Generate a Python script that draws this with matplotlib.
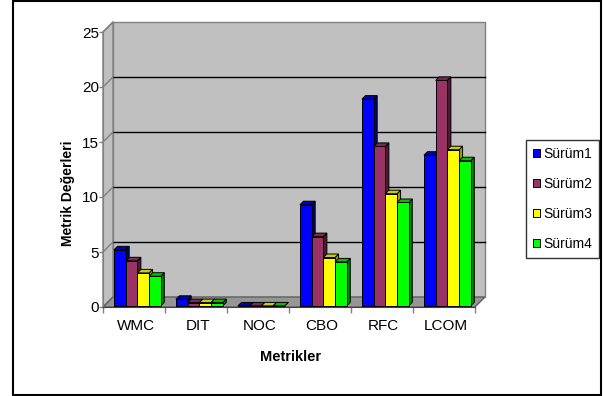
import matplotlib.pyplot as plt
from matplotlib.patches import Polygon, Rectangle, Patch

# metric names and values for each release
metrics = ["WMC", "DIT", "NOC", "CBO", "RFC", "LCOM"]
series_names = ["Sürüm1", "Sürüm2", "Sürüm3", "Sürüm4"]
surum1 = [5.1, 0.6, 0.0, 9.2, 18.8, 13.7]
surum2 = [4.1, 0.3, 0.0, 6.3, 14.5, 20.5]
surum3 = [3.0, 0.3, 0.0, 4.4, 10.2, 14.2]
surum4 = [2.7, 0.3, 0.0, 4.0, 9.4, 13.2]
y_ticks = [0, 5, 10, 15, 20, 25]

series = [surum1, surum2, surum3, surum4]
face = ["#0000FF", "#993366", "#FFFF00", "#00FF00"]
top_c = ["#0000B0", "#7A2950", "#CCCC00", "#00C000"]
side_c = ["#000080", "#4D1A33", "#999900", "#008000"]

plt.rcParams["font.family"] = ["Liberation Sans", "DejaVu Sans"]

W, H = 603, 396
fig = plt.figure(figsize=(W / 100, H / 100), dpi=100)

# pixel layout of the front plane: x=0 at 103px, 62px per category; y=0 at 307px, 11px per unit
px0, ux, py0, uy = 103, 62, 307, 11
xlo, xhi, ylo, yhi = -0.35, 6.35, -1.2, 26.5
ax = fig.add_axes([(px0 + xlo * ux) / W, (H - (py0 - ylo * uy)) / H,
                   (xhi - xlo) * ux / W, (yhi - ylo) * uy / H])
ax.set_xlim(xlo, xhi)
ax.set_ylim(ylo, yhi)
ax.patch.set_visible(False)

n = len(metrics)
ymax = y_ticks[-1]
DX, DY = 10 / ux, 10 / uy          # wall depth
bdx, bdy = 3.5 / ux, 3.5 / uy      # bar depth
bw = 11.7 / ux
off = 0.177
base = 0.1

# walls and floor
ax.add_patch(Polygon([(DX, DY), (n + DX, DY), (n + DX, ymax + DY), (DX, ymax + DY)],
                     closed=True, fc="#C0C0C0", ec="#808080", lw=1, zorder=1))
ax.add_patch(Polygon([(0, 0), (DX, DY), (DX, ymax + DY), (0, ymax)],
                     closed=True, fc="#C0C0C0", ec="#808080", lw=1, zorder=1))
ax.add_patch(Polygon([(0, 0), (n, 0), (n + DX, DY), (DX, DY)],
                     closed=True, fc="#969696", ec="#606060", lw=1, zorder=2))

# gridlines on the back wall and the side wall
for v in y_ticks[1:-1]:
    ax.plot([DX, n + DX], [v + DY, v + DY], color="black", lw=1, zorder=2)
for v in y_ticks[1:]:
    ax.plot([0, DX], [v, v + DY], color="#808080", lw=1, zorder=2)

# 3d-looking columns
for i in range(n):
    for j, vals in enumerate(series):
        h = vals[i]
        x = i + off + j * bw
        z = 10 + j
        ax.add_patch(Polygon([(x + bw, base), (x + bw, base + h), (x + bw + bdx, base + h + bdy),
                              (x + bw + bdx, base + bdy)], closed=True, fc=side_c[j],
                             ec="black", lw=0.7, zorder=z))
        ax.add_patch(Polygon([(x, base + h), (x + bdx, base + h + bdy), (x + bw + bdx, base + h + bdy),
                              (x + bw, base + h)], closed=True, fc=top_c[j],
                             ec="black", lw=0.7, zorder=z))
        ax.bar(x, h, bw, bottom=base, align="edge", color=face[j],
               edgecolor="black", lw=0.7, zorder=z)

# axes
for s in ["top", "right"]:
    ax.spines[s].set_visible(False)
ax.spines["left"].set_position(("data", 0))
ax.spines["left"].set_bounds(0, ymax)
ax.spines["left"].set_color("#808080")
ax.spines["bottom"].set_position(("data", 0))
ax.spines["bottom"].set_bounds(0, n)
ax.spines["bottom"].set_color("#404040")
ax.spines["left"].set_zorder(3)
ax.spines["bottom"].set_zorder(3)

ax.set_yticks(y_ticks)
ax.set_yticklabels([str(t) for t in y_ticks])
ax.tick_params(axis="y", length=3, width=1, color="#808080", pad=0, labelsize=11)
ax.set_xticks([i + 0.53 for i in range(n)])
ax.set_xticklabels(metrics)
ax.set_xticks(range(n + 1), minor=True)
ax.tick_params(axis="x", which="major", length=0, pad=9, labelsize=11)
ax.tick_params(axis="x", which="minor", length=4, width=1, color="#808080")

fig.text(291 / W, 1 - 357 / H, "Metrikler", ha="center", va="center",
         fontsize=10.5, fontweight="bold")
fig.text(68 / W, 1 - 193 / H, "Metrik Değerleri", ha="center", va="center",
         rotation=90, fontsize=10, fontweight="bold")

handles = [Patch(facecolor=face[j], edgecolor="black", lw=0.7) for j in range(4)]
leg = fig.legend(handles, series_names, loc="upper right",
                 bbox_to_anchor=(599 / W, 1 - 140 / H), borderaxespad=0,
                 fontsize=10, frameon=True, fancybox=False, edgecolor="black",
                 handlelength=0.45, handleheight=0.6, handletextpad=0.25,
                 labelspacing=1.15, borderpad=0.5)
leg.get_frame().set_linewidth(1)

# chart-area border
fig.patches.append(Rectangle((13 / W, 1 - 395 / H), 588 / W, 394 / H,
                             transform=fig.transFigure, fill=False,
                             ec="black", lw=1.5))

fig.savefig("out.png", dpi=100)
